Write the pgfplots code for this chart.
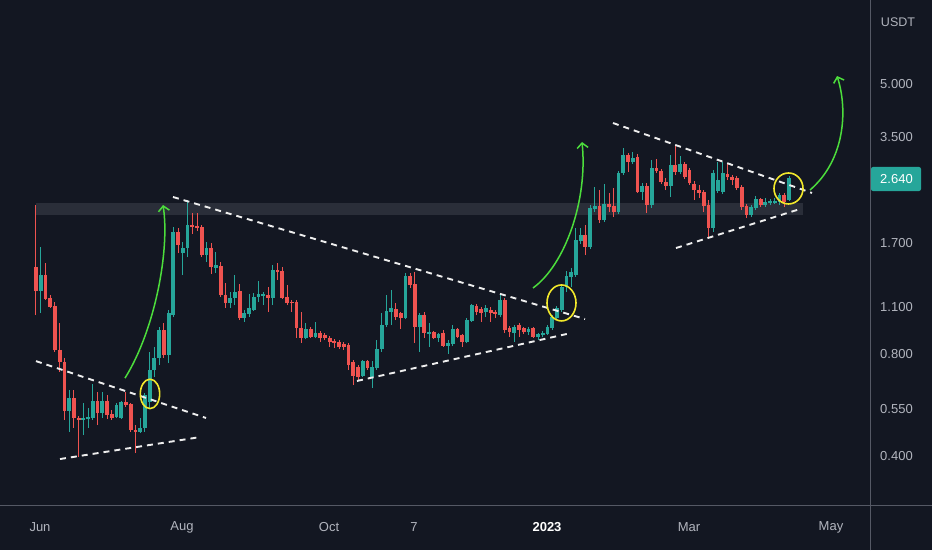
\documentclass[border=0pt]{standalone}
\usepackage{pgfplots}
\pgfplotsset{compat=1.18}
\usepackage{pgfplotstable}
\usetikzlibrary{arrows.meta}
\usepackage{fontspec}
\setmainfont{Liberation Sans}
\definecolor{bg}{HTML}{131722}
\definecolor{upc}{HTML}{26A69A}
\definecolor{dnc}{HTML}{EF5350}
\definecolor{band}{HTML}{2A2E39}
\definecolor{lbl}{HTML}{B2B5BE}
\definecolor{sep}{HTML}{555965}
\definecolor{yel}{HTML}{F2E82B}
\definecolor{grn}{HTML}{4CDD3C}
\definecolor{trend}{HTML}{EEEEEE}

\pgfplotstableread{
i o h l c
0 1.444 2.199 1.042 1.226
1 1.226 1.653 1.056 1.367
2 1.367 1.483 1.154 1.162
3 1.170 1.194 1.093 1.100
4 1.108 1.138 0.811 0.822
5 0.822 0.987 0.708 0.757
6 0.757 0.778 0.511 0.543
7 0.543 0.626 0.471 0.593
8 0.593 0.626 0.484 0.518
9 0.518 0.525 0.398 0.511
10 0.511 0.573 0.461 0.518
11 0.514 0.554 0.484 0.521
12 0.518 0.652 0.511 0.581
13 0.581 0.618 0.494 0.536
14 0.536 0.618 0.518 0.581
15 0.581 0.605 0.514 0.529
16 0.532 0.547 0.511 0.518
17 0.521 0.573 0.518 0.566
18 0.518 0.581 0.514 0.577
19 0.577 0.618 0.558 0.566
20 0.570 0.573 0.471 0.477
21 0.477 0.494 0.408 0.471
22 0.471 0.518 0.468 0.484
23 0.484 0.614 0.471 0.605
24 0.577 0.811 0.554 0.717
25 0.717 0.839 0.684 0.778
26 0.778 0.961 0.742 0.941
27 0.941 0.987 0.778 0.794
28 0.794 1.078 0.752 1.056
29 1.042 1.894 1.028 1.831
30 1.831 1.881 1.587 1.676
31 1.587 1.711 1.367 1.642
32 1.642 2.275 1.545 1.920
33 1.920 2.083 1.806 1.894
34 1.907 2.083 1.843 1.881
35 1.894 1.920 1.545 1.566
36 1.566 1.711 1.493 1.642
37 1.642 1.699 1.377 1.444
38 1.434 1.598 1.386 1.463
39 1.453 1.493 1.177 1.194
40 1.194 1.295 1.093 1.131
41 1.131 1.218 1.093 1.170
42 1.170 1.367 1.115 1.218
43 1.226 1.286 1.007 1.021
44 1.021 1.078 0.994 1.056
45 1.049 1.202 1.028 1.093
46 1.078 1.210 1.071 1.177
47 1.177 1.313 1.138 1.202
48 1.186 1.218 1.115 1.202
49 1.194 1.260 1.064 1.170
50 1.170 1.463 1.115 1.414
51 1.414 1.483 1.322 1.395
52 1.405 1.444 1.162 1.170
53 1.177 1.277 1.115 1.131
54 1.138 1.154 1.064 1.131
55 1.138 1.154 0.891 0.954
56 0.954 1.064 0.862 0.891
57 0.891 0.987 0.885 0.948
58 0.948 0.961 0.891 0.897
59 0.897 0.994 0.891 0.922
60 0.922 0.935 0.868 0.891
61 0.910 0.922 0.879 0.891
62 0.891 0.904 0.839 0.868
63 0.873 0.885 0.833 0.862
64 0.868 0.879 0.827 0.839
65 0.856 0.868 0.822 0.839
66 0.850 0.862 0.717 0.742
67 0.757 0.768 0.648 0.689
68 0.732 0.742 0.670 0.684
69 0.689 0.768 0.684 0.762
70 0.762 0.768 0.717 0.727
71 0.684 0.762 0.635 0.732
72 0.727 0.879 0.717 0.827
73 0.827 1.056 0.811 0.974
74 0.974 1.194 0.961 1.071
75 1.064 1.235 0.974 1.093
76 1.085 1.131 1.007 1.028
77 1.056 1.064 0.948 1.021
78 1.021 1.386 1.014 1.358
79 1.358 1.386 1.252 1.277
80 1.286 1.395 0.862 0.961
81 0.961 1.056 0.811 1.042
82 1.042 1.064 0.891 0.922
83 0.916 0.987 0.839 0.929
84 0.929 0.935 0.885 0.891
85 0.891 0.922 0.868 0.916
86 0.922 0.941 0.839 0.844
87 0.844 0.879 0.800 0.862
88 0.856 0.974 0.844 0.948
89 0.948 0.954 0.891 0.897
90 0.910 0.916 0.839 0.868
91 0.868 1.021 0.862 1.007
92 1.000 1.123 0.994 1.115
93 1.108 1.123 1.042 1.064
94 1.085 1.100 0.994 1.056
95 1.064 1.115 1.028 1.093
96 1.078 1.100 0.994 1.056
97 1.064 1.078 1.021 1.049
98 1.042 1.210 1.028 1.154
99 1.154 1.170 0.922 0.941
100 0.954 0.967 0.897 0.929
101 0.922 0.974 0.868 0.961
102 0.974 0.987 0.897 0.941
103 0.954 0.961 0.916 0.929
104 0.929 0.961 0.910 0.948
105 0.954 0.961 0.891 0.897
106 0.897 0.922 0.879 0.916
107 0.910 0.935 0.897 0.922
108 0.916 0.974 0.910 0.961
109 0.954 1.042 0.941 1.028
110 1.021 1.108 1.007 1.093
111 1.078 1.269 1.064 1.260
112 1.260 1.405 1.218 1.358
113 1.349 1.434 1.260 1.395
114 1.367 1.881 1.349 1.734
115 1.722 1.881 1.687 1.794
116 1.794 1.920 1.566 1.653
117 1.653 2.199 1.631 2.155
118 2.140 2.485 2.097 2.184
119 2.184 2.435 1.946 1.986
120 1.986 2.536 1.959 2.214
121 2.214 2.386 2.097 2.169
122 2.184 2.468 2.027 2.097
123 2.097 2.770 2.069 2.733
124 2.733 3.238 2.696 3.088
125 3.088 3.130 2.751 2.944
126 2.944 3.151 2.905 3.025
127 3.046 3.109 2.386 2.402
128 2.402 2.553 2.275 2.502
129 2.502 2.553 2.083 2.199
130 2.199 2.985 2.155 2.827
131 2.827 3.005 2.733 2.770
132 2.770 2.808 2.536 2.571
133 2.571 2.641 2.435 2.502
134 2.502 3.088 2.322 2.885
135 2.885 3.305 2.696 2.751
136 2.751 3.067 2.714 2.905
137 2.905 2.944 2.623 2.659
138 2.789 2.827 2.519 2.553
139 2.536 2.588 2.275 2.435
140 2.435 2.519 2.306 2.386
141 2.402 2.435 2.097 2.184
142 2.199 2.275 1.770 1.881
143 1.881 2.789 1.831 2.733
144 2.418 2.944 2.386 2.606
145 2.402 2.944 2.369 2.733
146 2.714 2.924 2.606 2.659
147 2.659 2.696 2.519 2.606
148 2.641 2.677 2.435 2.468
149 2.485 2.519 2.126 2.169
150 2.184 2.214 2.013 2.055
151 2.055 2.199 2.027 2.169
152 2.155 2.337 2.126 2.290
153 2.290 2.306 2.169 2.199
154 2.199 2.306 2.169 2.244
155 2.229 2.290 2.199 2.260
156 2.229 2.306 2.214 2.260
157 2.244 2.386 2.199 2.353
158 2.353 2.386 2.169 2.244
159 2.275 2.677 2.260 2.641
}\ohlc

\begin{document}
\begin{tikzpicture}
\fill[bg] (0pt,-45pt) rectangle (932pt,505pt);
\begin{axis}[
  at={(0pt,0pt)}, anchor=south west,
  scale only axis, width=870pt, height=505pt,
  xmin=-7.601, xmax=176.10,
  ymode=log, ymin=0.2869, ymax=8.844,
  axis line style={draw=none},
  tick style={draw=none},
  major tick length=0pt, minor tick length=0pt,
  xtick={0.845,30.83,61.87,79.81,107.90,137.88,167.86},
  xticklabels={Jun,Aug,Oct,7,{\color{white}\bfseries 2023},Mar,May},
  ytick={0.4,0.55,0.8,1.1,1.7,2.6,3.5,5},
  yticklabels={0.400,0.550,0.800,1.100,1.700,2.600,3.500,5.000},
  yticklabel pos=right,
  yticklabel style={anchor=west, inner sep=0pt, xshift=10pt, font=\fontsize{13}{15}\selectfont, text=lbl},
  xticklabel style={anchor=center, inner sep=0pt, yshift=-22pt, font=\fontsize{13}{15}\selectfont, text=lbl},
  /pgf/number format/assume math mode=true,
]
\fill[band] (axis cs:0,2.229) rectangle (axis cs:161.95,2.055);

\pgfplotsinvokeforeach{0,...,159}{
  \pgfplotstablegetelem{#1}{o}\of\ohlc \edef\vo{\pgfplotsretval}
  \pgfplotstablegetelem{#1}{h}\of\ohlc \edef\vh{\pgfplotsretval}
  \pgfplotstablegetelem{#1}{l}\of\ohlc \edef\vl{\pgfplotsretval}
  \pgfplotstablegetelem{#1}{c}\of\ohlc \edef\vc{\pgfplotsretval}
  \pgfmathtruncatemacro{\isup}{\vc>=\vo ? 1 : 0}
  \ifnum\isup=1 \def\col{upc}\else\def\col{dnc}\fi
  \edef\tmp{\noexpand\addplot[draw=\col, line width=1pt, forget plot] coordinates {(#1,\vl) (#1,\vh)};
    \noexpand\addplot[draw=\col, line width=3.8pt, forget plot] coordinates {(#1,\vo) (#1,\vc)};}
  \tmp
}

% trend lines
\addplot[trend, line width=1.9pt, dash pattern=on 6pt off 5pt, forget plot] coordinates {(0,0.762) (35.90,0.518)};
\addplot[trend, line width=1.9pt, dash pattern=on 6pt off 5pt, forget plot] coordinates {(5.07,0.392) (34.63,0.455)};
\addplot[trend, line width=1.9pt, dash pattern=on 6pt off 5pt, forget plot] coordinates {(28.93,2.322) (115.92,1.014)};
\addplot[trend, line width=1.9pt, dash pattern=on 6pt off 5pt, forget plot] coordinates {(67.78,0.666) (112.96,0.922)};
\addplot[trend, line width=1.9pt, dash pattern=on 6pt off 5pt, forget plot] coordinates {(121.83,3.837) (163.85,2.386)};
\addplot[trend, line width=1.9pt, dash pattern=on 6pt off 5pt, forget plot] coordinates {(135.14,1.642) (161.32,2.140)};

% circles
\draw[yel, line width=1.6pt] (axis cs:24.07,0.610) ellipse [x radius=9.7pt, y radius=14.7pt];
\draw[yel, line width=1.6pt] (axis cs:110.96,1.131) ellipse [x radius=14.5pt, y radius=18pt];
\draw[yel, line width=1.6pt] (axis cs:158.89,2.460) ellipse [x radius=14.5pt, y radius=15.5pt];

% arrows
\draw[grn, line width=1.5pt, -{Straight Barb[length=5pt,width=11pt]}] (axis cs:18.79,0.679) .. controls (axis cs:25.13,0.941) and (axis cs:28.29,1.620) .. (axis cs:26.82,2.199);
\draw[grn, line width=1.5pt, -{Straight Barb[length=5pt,width=11pt]}] (axis cs:104.94,1.252) .. controls (axis cs:111.70,1.463) and (axis cs:116.55,2.275) .. (axis cs:115.29,3.373);
\draw[grn, line width=1.5pt, -{Straight Barb[length=5pt,width=11pt]}] (axis cs:163.43,2.435) .. controls (axis cs:170.82,2.985) and (axis cs:171.45,4.191) .. (axis cs:169.14,5.279);
\end{axis}
% separators and price labels
\draw[sep, line width=1pt] (870pt,-45pt) -- (870pt,505pt);
\draw[sep, line width=1pt] (0pt,0pt) -- (932pt,0pt);
\node[text=lbl, font=\fontsize{12.5}{15}\selectfont, inner sep=0pt] at (898pt,483pt) {USDT};
\fill[upc, rounded corners=2pt] (871pt,314pt) rectangle (921pt,338pt);
\node[text=white, font=\fontsize{13}{15}\selectfont, inner sep=0pt, anchor=west] at (880pt,326pt) {2.640};
\pgfresetboundingbox
\path[use as bounding box] (0pt,-45pt) rectangle (932pt,505pt);
\end{tikzpicture}
\end{document}
